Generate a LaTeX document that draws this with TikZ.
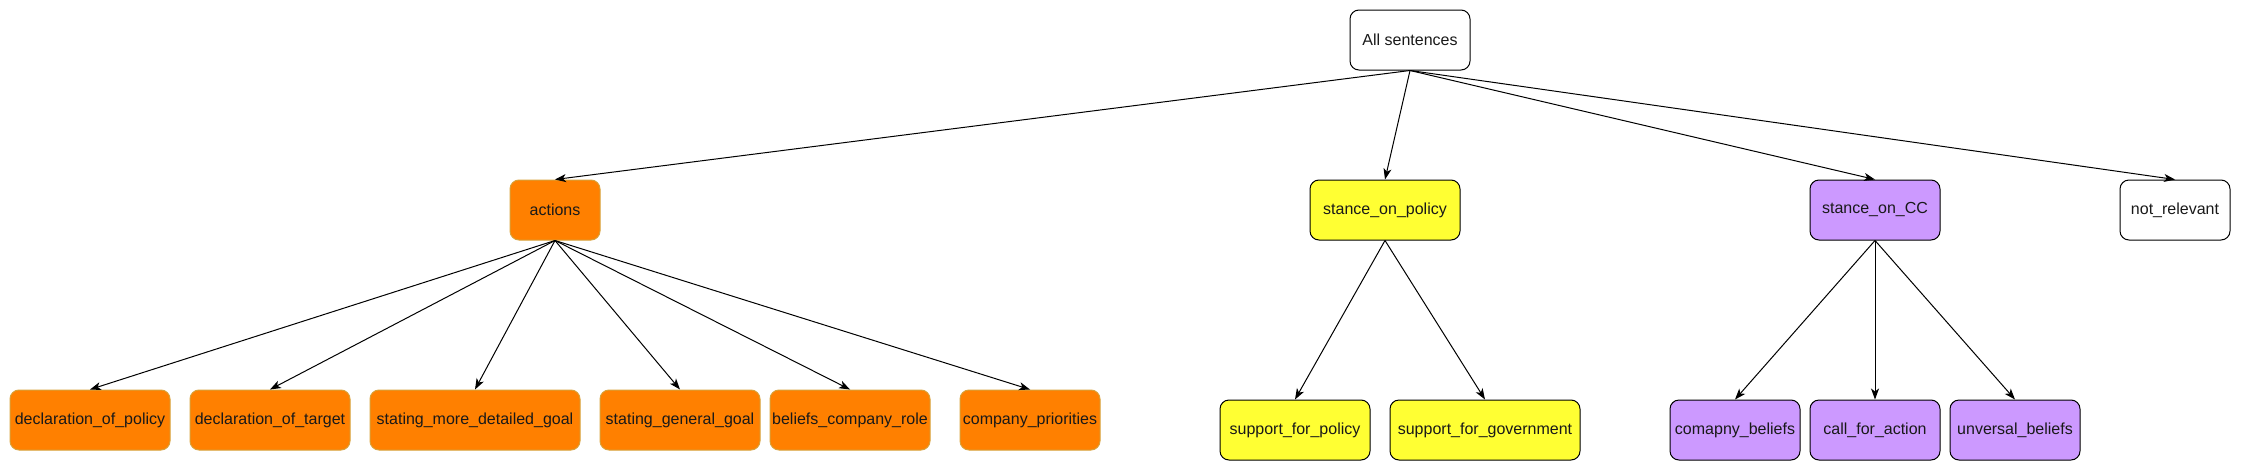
\documentclass[tikz,border=0pt]{standalone}
\usepackage{fontspec}
\setmainfont{Liberation Sans}
\usepackage{xcolor}
\usetikzlibrary{positioning}
\usetikzlibrary{arrows.meta}

\definecolor{actorange}{HTML}{FF8000}
\definecolor{actborder}{HTML}{D7A13A}
\definecolor{polyellow}{HTML}{FFFF33}
\definecolor{ccpurple}{HTML}{CC99FF}

\begin{document}
\begin{tikzpicture}[x=1pt,y=-1pt,font=\fontsize{16}{19}\selectfont,
      cat style/.style={rectangle,rounded corners=9pt,draw=black,line width=1pt,
        inner sep=0pt,minimum height=60pt,align=center,text=black!90},
      act style/.style={cat style,fill=actorange,draw=actborder},
      pol style/.style={cat style,fill=polyellow},
      cc style/.style={cat style,fill=ccpurple},
      link/.style={line width=1pt,-{Stealth[length=11pt,width=8pt,inset=3pt]}}
      ]
      \useasboundingbox (0,0) rectangle (2241,471);

      \node[cat style, minimum width=120pt] (all) at (1410,40) {All sentences};

      \node[act style, minimum width=90pt] (actions) at (555,210) {actions};
      \node[pol style, minimum width=150pt] (policy) at (1385,210) {stance\_on\_policy};
      \node[cc style, minimum width=130pt] (cc) at (1875,210) {stance\_on\_CC};
      \node[cat style, minimum width=110pt] (notrel) at (2175,210) {not\_relevant};

      \draw (all.south) edge [link] (actions.north);
      \draw (all.south) edge [link] (policy.north);
      \draw (all.south) edge [link] (cc.north);
      \draw (all.south) edge [link] (notrel.north);

      % actions
      \node[act style, minimum width=160pt] (declpolicy) at (90,420) {declaration\_of\_policy};
      \node[act style, minimum width=160pt] (decltarget) at (270,420) {declaration\_of\_target};
      \node[act style, minimum width=210pt] (detailgoal) at (475,420) {stating\_more\_detailed\_goal};
      \node[act style, minimum width=160pt] (generalgoal) at (680,420) {stating\_general\_goal};
      \node[act style, minimum width=160pt] (beliefsrole) at (850,420) {beliefs\_company\_role};
      \node[act style, minimum width=140pt] (priorities) at (1030,420) {company\_priorities};

      \foreach \child in {declpolicy,decltarget,detailgoal,generalgoal,beliefsrole,priorities}
        \draw (actions.south) edge [link] (\child.north);

      % stance on policy
      \node[pol style, minimum width=150pt] (suppolicy) at (1295,430) {support\_for\_policy};
      \node[pol style, minimum width=190pt] (supgov) at (1485,430) {support\_for\_government};

      \draw (policy.south) edge [link] (suppolicy.north);
      \draw (policy.south) edge [link] (supgov.north);

      % stance on CC
      \node[cc style, minimum width=130pt] (compbeliefs) at (1735,430) {comapny\_beliefs};
      \node[cc style, minimum width=130pt] (callaction) at (1875,430) {call\_for\_action};
      \node[cc style, minimum width=130pt] (univbeliefs) at (2015,430) {unversal\_beliefs};

      \draw (cc.south) edge [link] (compbeliefs.north);
      \draw (cc.south) edge [link] (callaction.north);
      \draw (cc.south) edge [link] (univbeliefs.north);

    \end{tikzpicture}
\end{document}
